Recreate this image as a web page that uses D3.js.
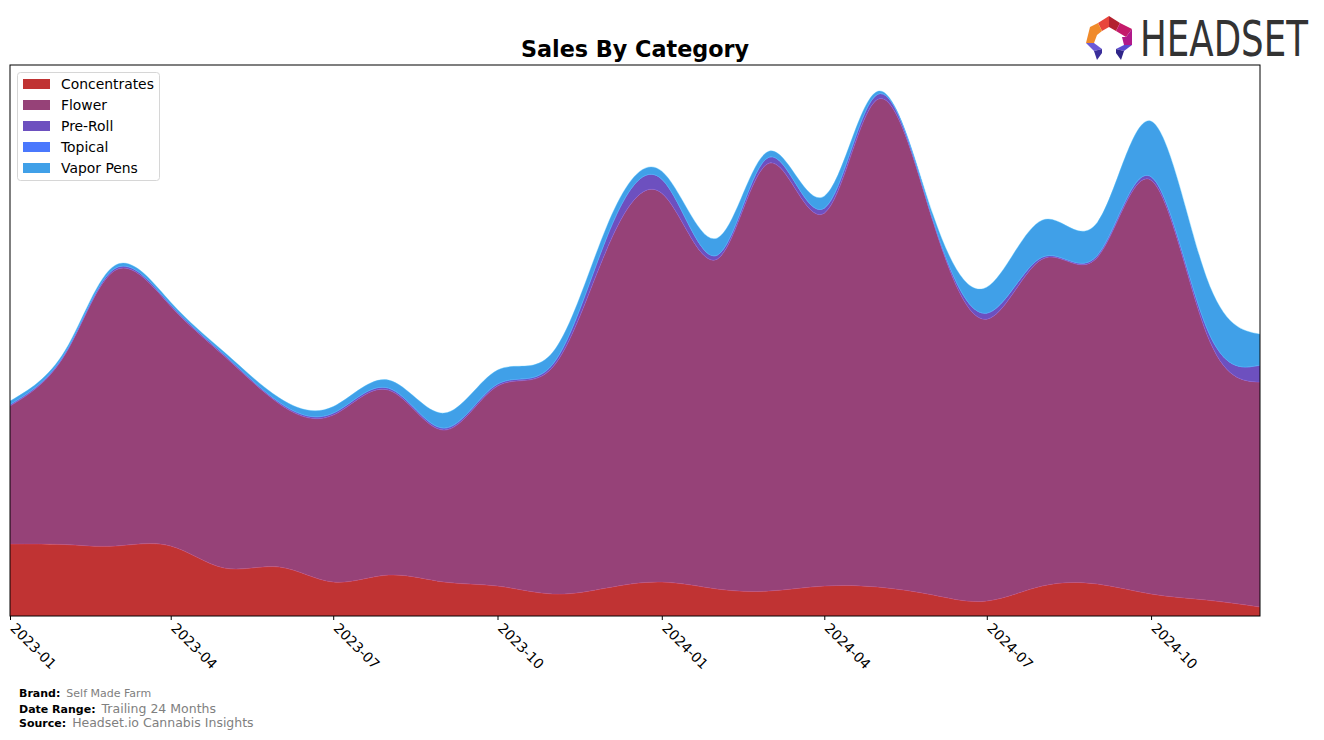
<!DOCTYPE html>
<html>
<head>
<meta charset="utf-8">
<script src="https://cdn.jsdelivr.net/npm/d3@7"></script>
<style>
  body { margin: 0; background: #fff; }
  svg { display: block; font-family: "DejaVu Sans", sans-serif; }
</style>
</head>
<body>
<svg id="chart" width="1324" height="740"></svg>
<script>
// ---- data (monthly, relative sales units) ----
const months = ["2023-01","2023-02","2023-03","2023-04","2023-05","2023-06","2023-07","2023-08","2023-09","2023-10","2023-11","2023-12",
                "2024-01","2024-02","2024-03","2024-04","2024-05","2024-06","2024-07","2024-08","2024-09","2024-10","2024-11","2024-12"];
const concentrates = [72, 71.5, 70, 70, 48, 49, 34, 41, 34, 30, 22, 28, 34, 27, 25, 30, 29, 21, 15, 30, 32, 22, 16, 9];
const flower       = [138, 190.5, 276, 240, 212, 163, 167, 185, 152, 200, 227, 338, 389, 330, 428, 373, 488, 373, 282, 327, 327, 414, 267, 225];
const preRoll      = [1.5, 1.5, 2, 1.5, 1.5, 1.5, 2, 2, 2, 2, 3, 12, 14, 4, 6, 5, 5, 2, 6, 2, 2, 3.5, 6, 17];
const topical      = [0, 0, 0, 0, 0, 0, 0, 0, 0, 0, 0, 0, 0, 0, 0, 0, 0, 0, 0, 0, 0, 0, 0, 0];
const vaporPens    = [3.5, 2.5, 3, 2.5, 2.5, 4.5, 6.5, 8, 15, 14, 12, 11, 8, 17, 6, 12, 3, 5, 26, 37, 33, 55.5, 50, 31];
const categories = ["Concentrates", "Flower", "Pre-Roll", "Topical", "Vapor Pens"];
const colors = ["#c03333", "#964278", "#6d50bf", "#4a78fd", "#40a0e8"];
const tickLabels = ["2023-01","2023-04","2023-07","2023-10","2024-01","2024-04","2024-07","2024-10"];

const parse = d3.timeParse("%Y-%m");
const seriesArrays = [concentrates, flower, preRoll, topical, vaporPens];
const table = months.map((m, i) => {
  const row = { date: parse(m) };
  categories.forEach((c, k) => row[c] = seriesArrays[k][i]);
  return row;
});

const svg = d3.select("#chart");
const L = 10, R = 1260, T = 65, B = 616;

const x = d3.scaleTime().domain(d3.extent(table, d => d.date)).range([L, R]);
const totals = table.map(r => categories.reduce((s, c) => s + r[c], 0));
const y = d3.scaleLinear().domain([0, d3.max(totals) * 1.05]).range([B, T]);

const stacked = d3.stack().keys(categories)(table);
const area = d3.area()
  .curve(d3.curveNatural)
  .x(d => x(d.data.date))
  .y0(d => y(d[0]))
  .y1(d => y(d[1]));

svg.append("defs").append("clipPath").attr("id", "clip")
  .append("rect").attr("x", L).attr("y", T).attr("width", R - L).attr("height", B - T);

const g = svg.append("g").attr("clip-path", "url(#clip)");
g.selectAll("path.layer").data(stacked).join("path")
  .attr("class", "layer")
  .attr("d", area)
  .attr("fill", (d, i) => colors[i])
  .attr("stroke", (d, i) => d3.color(colors[i]).brighter(0.6))
  .attr("stroke-width", 0.6)
  .attr("stroke-opacity", 0.6);

// frame
svg.append("rect").attr("x", L).attr("y", T).attr("width", R - L).attr("height", B - T)
  .attr("fill", "none").attr("stroke", "#000").attr("stroke-width", 1);

// x axis
const tickDates = tickLabels.map(parse);
const axis = d3.axisBottom(x).tickValues(tickDates).tickFormat(d3.timeFormat("%Y-%m")).tickSize(4).tickSizeOuter(0);
const ax = svg.append("g").attr("transform", `translate(0,${B})`).call(axis);
ax.select(".domain").remove();
ax.selectAll(".tick line").attr("stroke", "#000");
ax.selectAll(".tick text")
  .attr("font-size", 13.9)
  .attr("font-family", "DejaVu Sans, sans-serif")
  .attr("fill", "#000")
  .attr("text-anchor", "start")
  .attr("dy", null)
  .attr("y", 0)
  .attr("transform", "translate(-1,13) rotate(45)");

// title
svg.append("text").attr("x", 635).attr("y", 57).attr("text-anchor", "middle")
  .attr("font-size", 22.3).attr("font-weight", "bold").attr("fill", "#000").text("Sales By Category");

// legend
const lg = svg.append("g");
lg.append("rect").attr("x", 17.5).attr("y", 72.5).attr("width", 142).attr("height", 108)
  .attr("rx", 3).attr("fill", "#fff").attr("fill-opacity", 0.8).attr("stroke", "#d6d6d6");
categories.forEach((c, i) => {
  const yy = 84 + i * 21;
  lg.append("rect").attr("x", 23).attr("y", yy - 5).attr("width", 27).attr("height", 10).attr("fill", colors[i]);
  lg.append("text").attr("x", 61).attr("y", yy + 5).attr("font-size", 13.9).attr("fill", "#000").text(c);
});

// footer
const foot = [["Brand:", "Self Made Farm", 697, 11], ["Date Range:", "Trailing 24 Months", 713, 12.5], ["Source:", "Headset.io Cannabis Insights", 727, 12.5]];
foot.forEach(([k, v, yy, fs]) => {
  const t = svg.append("text").attr("x", 19).attr("y", yy).attr("font-size", 11);
  t.append("tspan").attr("font-weight", "bold").attr("fill", "#000").text(k);
  t.append("tspan").attr("fill", "#808080").attr("font-size", fs).attr("dx", 6).text(v);
});

// logo
const logo = svg.append("g").attr("transform", "translate(1086,15)");
const pieces = [
  {p: "M12,8 L23,1 L23,12 L16,16 Z", c: "#e8453c"},
  {p: "M23,1 L34,8 L30,16 L23,12 Z", c: "#b3202f"},
  {p: "M34,8 L46,14 L40,22 L30,16 Z", c: "#c41a6a"},
  {p: "M12,8 L4,12 L0,28 L8,28 L11,20 L16,16 Z", c: "#f08a2a"},
  {p: "M46,14 L46,30 L38,30 L36,22 L40,22 Z", c: "#b0198a"},
  {p: "M0,28 L8,28 L16,34 L8,36 Z", c: "#6c5ad6"},
  {p: "M8,36 L16,34 L16,38 L11,45 Z", c: "#3a2e9a"},
  {p: "M46,30 L38,30 L30,34 L38,36 Z", c: "#5a4ad0"},
  {p: "M38,36 L30,34 L30,38 L35,45 Z", c: "#2f2588"}
];
pieces.forEach(d => logo.append("path").attr("d", d.p).attr("fill", d.c));
const brand = svg.append("text").attr("x", 0).attr("y", 0).attr("font-size", 49)
  .attr("font-family", "DejaVu Sans Condensed, DejaVu Sans, sans-serif")
  .attr("fill", "#333").text("HEADSET");
const natural = brand.node().getComputedTextLength();
brand.attr("transform", `translate(1140,56) scale(${168 / natural},1)`);
</script>
</body>
</html>
